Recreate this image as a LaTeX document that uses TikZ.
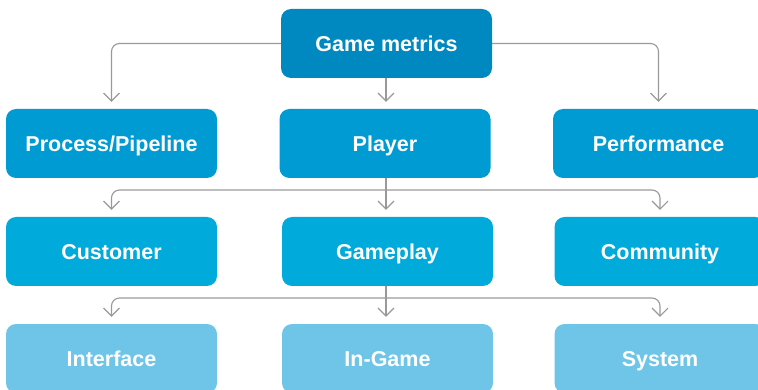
\documentclass[tikz,border=0pt]{standalone}
\usepackage{fontspec}
\setmainfont{Liberation Sans}
\usetikzlibrary{arrows.meta}

\definecolor{topblue}{HTML}{0089C0}
\definecolor{midblue}{HTML}{009BD3}
\definecolor{lowblue}{HTML}{00AADB}
\definecolor{paleblue}{HTML}{6EC5E7}
\definecolor{linegray}{HTML}{999999}

\begin{document}
\begin{tikzpicture}[x=1pt,y=-1pt,
    box/.style={rectangle,rounded corners=10pt,minimum width=211pt,minimum height=69pt,
                text=white,font=\fontsize{21.5}{24}\selectfont\bfseries,inner sep=0pt,
                text height=15.5pt,text depth=0pt},
    conn/.style={draw=linegray,line width=1.1pt,rounded corners=8pt,shorten >=7pt,
                 -{Straight Barb[length=8pt,width=16pt,line width=1.1pt]}}]
\useasboundingbox (0,0) rectangle (758,390);
\begin{scope}[every node/.style={box,fill=topblue}]
    \node (metrics) at (386.5,43.5) {Game metrics};
\end{scope}
\begin{scope}[every node/.style={box,fill=midblue}]
    \node (pipeline) at (111.5,143.5) {Process/Pipeline};
    \node (player) at (385,143.5) {Player};
    \node (perf) at (658.5,143.5) {Performance};
\end{scope}
\begin{scope}[every node/.style={box,fill=lowblue}]
    \node (customer) at (111.5,251.5) {Customer};
    \node (gameplay) at (387.5,251.5) {Gameplay};
    \node (community) at (660,251.5) {Community};
\end{scope}
\begin{scope}[every node/.style={box,fill=paleblue}]
    \node (interface) at (111.5,358.5) {Interface};
    \node (ingame) at (387.5,358.5) {In-Game};
    \node (system) at (660,358.5) {System};
\end{scope}
\coordinate (busA) at (386,190);
\coordinate (busB) at (386,298);
\begin{scope}[every path/.style={conn}]
    \path (metrics.west) -| (pipeline.north);
    \path (metrics.south -| busA) -- (busA |- player.north);
    \path (metrics.east) -| (perf.north);
    \path (player.south -| busA) -- (busA |- gameplay.north);
    \path (busA) -| (customer.north);
    \path (busA) -| (community.north);
    \path (gameplay.south -| busB) -- (busB |- ingame.north);
    \path (busB) -| (interface.north);
    \path (busB) -| (system.north);
\end{scope}
\end{tikzpicture}
\end{document}
